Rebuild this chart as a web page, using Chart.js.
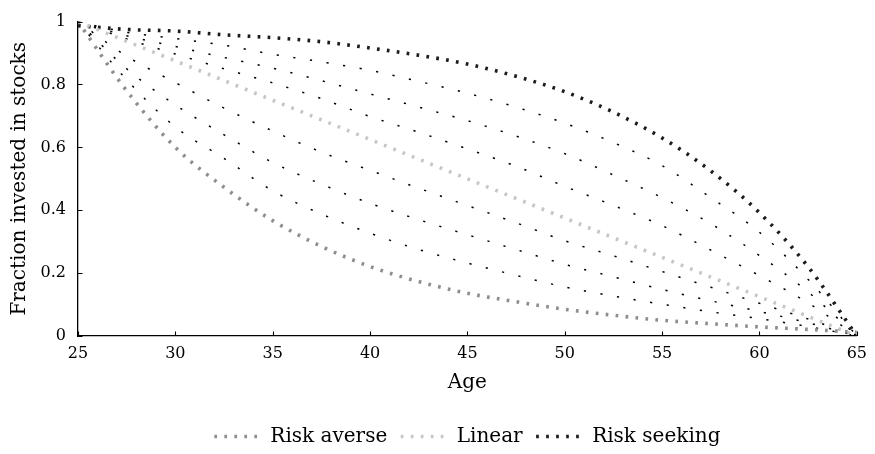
<!DOCTYPE html>
<html>
<head>
<meta charset="utf-8">
<script src="https://cdn.jsdelivr.net/npm/chart.js@4.4.1/dist/chart.umd.min.js"></script>
<style>
html,body{margin:0;padding:0;background:#fff;}
#wrap{width:875px;height:454px;}
</style>
</head>
<body>
<div id="wrap"><canvas id="c" width="875" height="454"></canvas></div>
<script>
// ---- data ----
const ages = [25, 27.5, 30, 32.5, 35, 37.5, 40, 42.5, 45, 47.5, 50, 52.5, 55, 57.5, 60, 62.5, 65];

const riskAverse  = [1.000, 0.780, 0.600, 0.473, 0.367, 0.285, 0.221, 0.173, 0.136, 0.109, 0.085, 0.066, 0.050, 0.039, 0.029, 0.021, 0.012];
const linearPath  = [1.000, 0.9375, 0.875, 0.8125, 0.750, 0.6875, 0.625, 0.5625, 0.500, 0.4375, 0.375, 0.3125, 0.250, 0.1875, 0.125, 0.0625, 0.000];
const riskSeeking = [0.987, 0.975, 0.970, 0.958, 0.949, 0.936, 0.916, 0.893, 0.865, 0.826, 0.777, 0.712, 0.630, 0.525, 0.392, 0.220, 0.000];

// intermediate paths (thin dotted), from top to bottom
const mid1 = [1.000, 0.966, 0.946, 0.925, 0.896, 0.872, 0.845, 0.810, 0.772, 0.728, 0.677, 0.615, 0.542, 0.440, 0.330, 0.180, 0.000];
const mid2 = [1.000, 0.955, 0.921, 0.886, 0.852, 0.812, 0.770, 0.728, 0.685, 0.636, 0.580, 0.512, 0.440, 0.357, 0.256, 0.140, 0.000];
const mid3 = [1.000, 0.945, 0.897, 0.850, 0.805, 0.755, 0.698, 0.648, 0.595, 0.540, 0.476, 0.415, 0.351, 0.273, 0.192, 0.105, 0.000];
const mid4 = [1.000, 0.890, 0.806, 0.725, 0.652, 0.585, 0.527, 0.470, 0.415, 0.360, 0.303, 0.255, 0.205, 0.155, 0.104, 0.054, 0.000];
const mid5 = [1.000, 0.850, 0.735, 0.640, 0.552, 0.483, 0.422, 0.370, 0.322, 0.275, 0.228, 0.188, 0.148, 0.112, 0.078, 0.042, 0.000];
const mid6 = [1.000, 0.815, 0.665, 0.565, 0.462, 0.388, 0.327, 0.275, 0.232, 0.193, 0.156, 0.127, 0.101, 0.077, 0.055, 0.030, 0.000];

const xTicks = [25, 30, 35, 40, 45, 50, 55, 60, 65];
const yTicks = [0, 0.2, 0.4, 0.6, 0.8, 1];
const legendLabels = ['Risk averse', 'Linear', 'Risk seeking'];
const xTitle = 'Age';
const yTitle = 'Fraction invested in stocks';

// ---- styling ----
const FONT = "'DejaVu Serif', serif";
Chart.defaults.font.family = FONT;
Chart.defaults.color = '#000';

const THICK = {w: 3.6, dash: [2.7, 7.3]};
const THIN = {w: 1.5, dash: [2.2, 14.6]};

function series(label, vals, color, st) {
  return {
    label: label,
    data: ages.map((a, i) => ({x: a, y: vals[i]})),
    borderColor: color,
    backgroundColor: color,
    borderWidth: st.w,
    borderDash: st.dash,
    borderCapStyle: 'butt',
    pointRadius: 0,
    pointHoverRadius: 0,
    fill: false,
    cubicInterpolationMode: 'monotone'
  };
}

const datasets = [
  series(legendLabels[0], riskAverse, '#8e8e8e', THICK),
  series(legendLabels[1], linearPath, '#c6c6c6', THICK),
  series(legendLabels[2], riskSeeking, '#1c1c1c', THICK),
  series('', mid1, '#000', THIN),
  series('', mid2, '#000', THIN),
  series('', mid3, '#000', THIN),
  series('', mid4, '#000', THIN),
  series('', mid5, '#000', THIN),
  series('', mid6, '#000', THIN)
];

// small inward tick marks drawn from the library's scales
const innerTicks = {
  id: 'innerTicks',
  afterDraw(chart) {
    const {ctx} = chart;
    const x = chart.scales.x, y = chart.scales.y;
    ctx.save();
    ctx.strokeStyle = '#000';
    ctx.lineWidth = 1.1;
    ctx.beginPath();
    xTicks.forEach(v => {
      const px = Math.round(x.getPixelForValue(v)) + 0.5;
      ctx.moveTo(px, y.bottom);
      ctx.lineTo(px, y.bottom - 4.5);
    });
    yTicks.forEach(v => {
      const py = Math.round(y.getPixelForValue(v)) + 0.5;
      ctx.moveTo(x.left, py);
      ctx.lineTo(x.left + 4.5, py);
    });
    ctx.stroke();
    ctx.restore();
  }
};

// center the legend under the plot area
const legendPlace = {
  id: 'legendPlace',
  afterLayout(chart) {
    const l = chart.legend;
    if (!l) return;
    const ca = chart.chartArea;
    const dx = (ca.left + ca.right) / 2 - (l.left + l.right) / 2;
    const dy = 2.5;
    l.left += dx; l.right += dx;
    l.top += dy; l.bottom += dy;
  }
};

new Chart(document.getElementById('c'), {
  type: 'line',
  data: {datasets: datasets},
  options: {
    responsive: false,
    animation: false,
    events: [],
    layout: {padding: {top: 16, right: 11, left: 0, bottom: 0}},
    plugins: {
      tooltip: {enabled: false},
      legend: {
        position: 'bottom',
        labels: {
          font: {family: FONT, size: 20},
          color: '#000',
          usePointStyle: true,
          pointStyle: 'line',
          pointStyleWidth: 46,
          padding: 13.5,
          generateLabels: chart => {
            const base = Chart.defaults.plugins.legend.labels.generateLabels(chart);
            return base.map(it => {
              const ds = chart.data.datasets[it.datasetIndex];
              it.lineDash = ds.borderDash;
              it.lineDashOffset = 0;
              it.lineWidth = ds.borderWidth;
              it.strokeStyle = ds.borderColor;
              it.fillStyle = ds.borderColor;
              it.lineCap = 'butt';
              it.pointStyle = 'line';
              return it;
            });
          },
          filter: item => legendLabels.includes(item.text),
          sort: (a, b) => legendLabels.indexOf(a.text) - legendLabels.indexOf(b.text)
        }
      }
    },
    scales: {
      x: {
        type: 'linear',
        min: 25, max: 65,
        afterFit: s => { s.height = 74.5; },
        afterBuildTicks: s => { s.ticks = xTicks.map(v => ({value: v})); },
        grid: {display: true, drawOnChartArea: false, drawTicks: false},
        border: {display: true, color: '#000', width: 1.3},
        ticks: {font: {family: FONT, size: 16}, color: '#000', padding: 8, maxRotation: 0},
        title: {display: true, text: xTitle, font: {family: FONT, size: 20}, color: '#000', padding: {top: 0, bottom: 16}}
      },
      y: {
        type: 'linear',
        min: 0, max: 1,
        afterFit: s => { s.width = 78; },
        afterBuildTicks: s => { s.ticks = yTicks.map(v => ({value: v})); },
        grid: {display: true, drawOnChartArea: false, drawTicks: false},
        border: {display: true, color: '#000', width: 1.3},
        ticks: {font: {family: FONT, size: 16}, color: '#000', padding: 12,
                callback: v => String(Math.round(v * 10) / 10)},
        title: {display: true, text: yTitle, font: {family: FONT, size: 20}, color: '#000', padding: {top: 7.5, bottom: 0}}
      }
    }
  },
  plugins: [innerTicks, legendPlace]
});
</script>
</body>
</html>
